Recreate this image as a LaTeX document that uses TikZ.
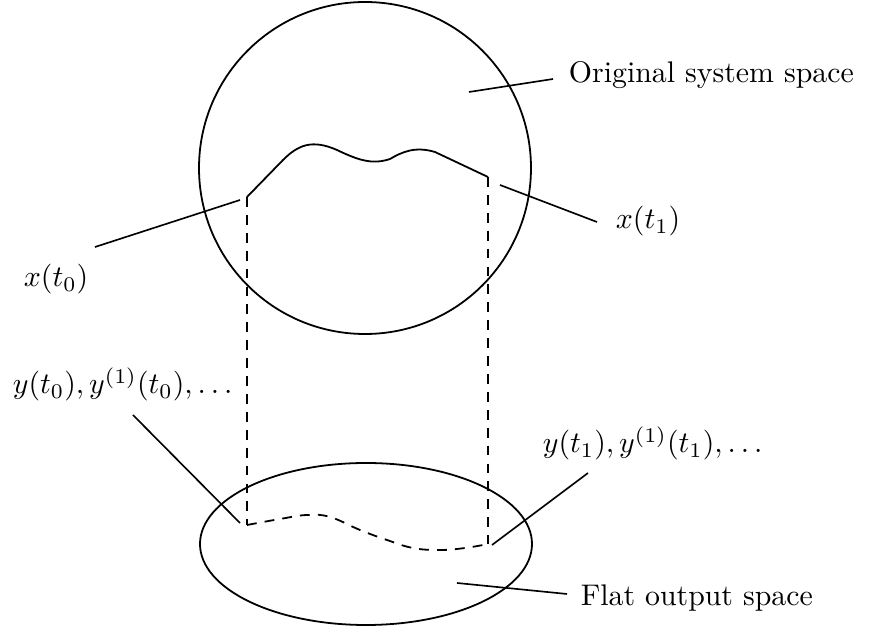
\documentclass[tikz,border=0pt]{standalone}
\begin{document}
\begin{tikzpicture}[x=0.335pt,y=-0.335pt,
  every path/.style={line width=0.6pt},
  leader/.style={line width=0.55pt},
  proj/.style={dashed,line width=0.6pt,dash pattern=on 3.3pt off 2.7pt},
  lbl/.style={inner sep=0pt,anchor=base west,font=\fontsize{10}{12}\selectfont}]
\useasboundingbox (0,0) rectangle (886,629);
% spaces
\draw (365,168) circle[radius=166];
\draw (366,544) ellipse[x radius=166, y radius=81];
% trajectory in original space
\coordinate (x0) at (247,197);
\coordinate (x1) at (488,177);
\draw (x0) -- (283,160) .. controls (298,145) and (312,139) .. (337,150)
  .. controls (358,160) and (372,165) .. (390,159)
  .. controls (402,152) and (415,146) .. (435,152) -- (x1);
% trajectory in flat output space
\coordinate (y0) at (247,525);
\coordinate (y1) at (488,544);
\draw[proj] plot[smooth,tension=0.7] coordinates {(247,525) (280,519) (307,515) (330,517) (360,530) (387,540) (413,548) (440,550) (465,548) (488,544)};
% projections
\draw[proj] (x0) -- (y0);
\draw[proj] (x1) -- (y1);
% labels
\node[lbl] (los) at (568,83) {Original system space};
\node[lbl] (lx1) at (615,229) {$x(t_1)$};
\node[lbl] (lx0) at (23,287) {$x(t_0)$};
\node[lbl] (ly0) at (12,394) {$y(t_0), y^{(1)}(t_0), \ldots$};
\node[lbl] (ly1) at (542,453) {$y(t_1), y^{(1)}(t_1), \ldots$};
\node[lbl] (lfo) at (580,606) {Flat output space};
% leader lines
\coordinate (aos1) at (469,92);  \coordinate (aos2) at (553,79);
\coordinate (ax11) at (500,185); \coordinate (ax12) at (597,222);
\coordinate (ax01) at (240,200); \coordinate (ax02) at (95,247);
\coordinate (ay01) at (133,415); \coordinate (ay02) at (240,523);
\coordinate (ay11) at (492,545); \coordinate (ay12) at (588,473);
\coordinate (afo1) at (457,583); \coordinate (afo2) at (567,594);
\draw[leader] (aos1) -- (aos2);
\draw[leader] (ax11) -- (ax12);
\draw[leader] (ax01) -- (ax02);
\draw[leader] (ay01) -- (ay02);
\draw[leader] (ay11) -- (ay12);
\draw[leader] (afo1) -- (afo2);
\end{tikzpicture}
\end{document}
